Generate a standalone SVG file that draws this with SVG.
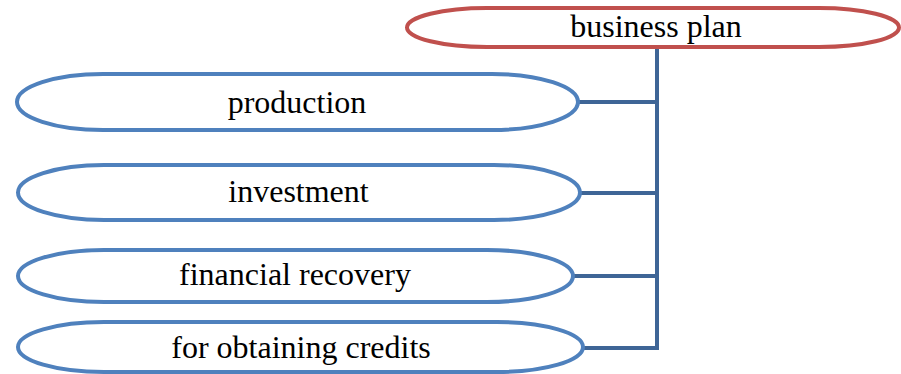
<svg xmlns="http://www.w3.org/2000/svg" width="901" height="374" viewBox="0 0 901 374">
  <style>
    .node { fill: #FFFFFF; stroke-width: 4; }
    .blue { stroke: #4F81BD; }
    .red { stroke: #C0504D; }
    .label { font-family: "Liberation Serif", "Times New Roman", serif; font-size: 32px; fill: #000000; text-anchor: middle; }
    .link { fill: none; stroke: #3E6596; stroke-width: 4; stroke-linecap: butt; stroke-linejoin: miter; }
  </style>
  <rect width="901" height="374" fill="#FFFFFF"/>

  <!-- tree connectors -->
  <g id="connectors">
    <path class="link" d="M657 47 V350"/>
    <path class="link" d="M578 102 H657"/>
    <path class="link" d="M580 193 H657"/>
    <path class="link" d="M573 276 H657"/>
    <path class="link" d="M583 348 H659"/>
  </g>

  <g id="business-plan">
    <rect class="node red" x="407" y="8" width="492" height="39" rx="80" ry="19.5"/>
    <text class="label" x="656" y="37">business plan</text>
  </g>

  <g id="production">
    <rect class="node blue" x="17" y="74" width="561" height="56" rx="86" ry="28"/>
    <text class="label" x="297" y="113">production</text>
  </g>

  <g id="investment">
    <rect class="node blue" x="18" y="165" width="562" height="55" rx="86" ry="27.5"/>
    <text class="label" x="298.5" y="202">investment</text>
  </g>

  <g id="financial-recovery">
    <rect class="node blue" x="18" y="250" width="555" height="52" rx="86" ry="26"/>
    <text class="label" x="295" y="285">financial recovery</text>
  </g>

  <g id="obtaining-credits">
    <rect class="node blue" x="18" y="322" width="565" height="50" rx="86" ry="25"/>
    <text class="label" x="301" y="358">for obtaining credits</text>
  </g>
</svg>
